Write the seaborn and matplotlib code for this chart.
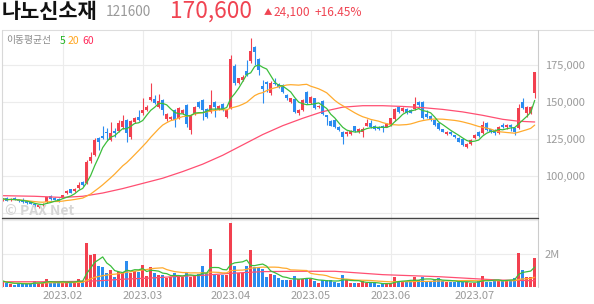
import numpy as np
import pandas as pd
import matplotlib
matplotlib.use("Agg")
import matplotlib.pyplot as plt
from matplotlib.lines import Line2D
import seaborn as sns

# ---------------- data (prices in thousand KRW, volume in millions) ----------------
month_labels = ["2023.02", "2023.03", "2023.04", "2023.05", "2023.06", "2023.07"]
month_start_idx = [15, 35, 57, 77, 97, 118]

opens = [83.3, 85.4, 83.6, 85.1, 84.0, 83.5, 82.9, 82.4, 81.1, 78.9,
         80.2, 82.4, 86.5, 85.1, 84.7, 85.1, 88.3, 91.0, 89.7, 91.9,
         96.1, 95.5, 110.0, 114.2, 125.7, 127.0, 130.0, 124.3, 130.6, 130.6,
         132.9, 137.8, 126.6, 136.7, 140.1, 142.4, 144.6, 151.4, 151.8, 146.8,
         151.4, 138.3, 138.5, 144.6, 139.0, 142.8, 148.0, 131.1, 142.4, 150.2,
         151.4, 145.1, 143.4, 150.2, 145.1, 148.6, 140.1, 146.0, 174.3, 163.0,
         164.9, 171.1, 177.9, 187.0, 178.9, 160.8, 163.3, 156.0, 163.0, 162.2,
         161.5, 154.7, 150.0, 151.8, 142.4, 144.6, 156.6, 149.1, 152.5, 146.8,
         150.9, 141.2, 137.2, 137.8, 133.3, 129.5, 128.4, 128.4, 133.5, 129.9,
         130.0, 134.0, 135.6, 133.8, 133.3, 134.0, 133.3, 134.5, 138.3, 146.8,
         144.1, 145.3, 144.6, 145.3, 150.0, 150.2, 141.9, 140.5, 138.0, 136.0,
         131.6, 128.2, 130.0, 127.7, 125.9, 124.8, 119.8, 121.6, 125.5, 130.0,
         128.8, 135.6, 131.6, 131.1, 128.8, 134.5, 132.9, 134.5, 132.2, 132.2,
         150.2, 142.4, 142.8, 155.9]
highs = [85.0, 85.6, 84.8, 85.5, 84.5, 85.0, 83.3, 82.8, 81.5, 80.5,
         81.5, 86.0, 87.0, 85.5, 85.0, 87.3, 90.5, 91.5, 91.8, 96.0,
         96.8, 110.5, 116.0, 125.5, 126.5, 133.8, 132.2, 136.7, 132.2, 137.8,
         141.2, 138.5, 138.0, 140.0, 144.6, 152.5, 148.0, 163.0, 154.7, 155.4,
         152.0, 142.5, 140.5, 145.0, 146.5, 145.5, 148.5, 141.5, 147.5, 151.0,
         152.0, 146.0, 158.1, 151.0, 148.0, 149.3, 145.0, 181.5, 175.5, 166.5,
         168.0, 178.4, 193.0, 188.0, 179.5, 164.9, 164.0, 164.0, 166.0, 163.0,
         162.5, 155.5, 153.0, 152.5, 145.5, 152.0, 157.5, 154.0, 153.0, 148.0,
         151.5, 141.5, 138.0, 138.5, 134.0, 130.5, 130.5, 131.0, 134.0, 132.5,
         133.3, 138.3, 137.8, 134.5, 134.0, 134.5, 135.5, 139.5, 146.0, 147.5,
         146.5, 146.0, 145.3, 153.2, 151.0, 151.0, 144.6, 141.2, 138.5, 136.5,
         132.0, 130.5, 130.5, 128.0, 126.3, 125.3, 122.0, 125.0, 128.5, 130.5,
         137.0, 136.5, 132.0, 131.5, 134.0, 136.0, 135.0, 135.0, 132.7, 148.5,
         152.5, 147.5, 147.5, 170.6]
lows = [83.0, 83.0, 83.3, 83.5, 82.6, 81.5, 81.2, 81.0, 79.0, 78.5,
        80.0, 82.0, 84.0, 83.5, 82.5, 84.8, 88.0, 88.3, 89.3, 91.5,
        93.2, 94.5, 109.0, 113.5, 117.6, 124.8, 124.3, 123.5, 126.6, 130.0,
        132.0, 123.2, 125.0, 135.8, 137.0, 141.5, 144.0, 150.5, 148.5, 146.0,
        141.2, 137.5, 138.0, 132.9, 138.5, 142.0, 133.1, 128.2, 141.5, 146.0,
        137.8, 139.0, 142.5, 140.1, 144.5, 144.0, 139.5, 145.5, 161.5, 162.5,
        164.0, 167.5, 176.5, 175.0, 168.2, 149.3, 157.0, 155.0, 161.5, 159.5,
        156.0, 151.5, 149.5, 142.5, 141.5, 144.0, 148.5, 148.5, 145.0, 146.0,
        141.0, 134.5, 133.5, 132.3, 130.5, 121.6, 127.0, 127.5, 130.0, 129.0,
        126.6, 133.5, 132.5, 131.1, 131.0, 130.0, 132.8, 134.0, 137.5, 142.8,
        143.5, 142.0, 142.4, 144.8, 146.0, 138.5, 139.0, 137.0, 134.0, 131.0,
        129.5, 127.5, 127.5, 125.5, 122.8, 120.5, 119.2, 121.0, 125.0, 126.5,
        128.2, 130.5, 129.0, 127.5, 128.2, 132.5, 131.5, 130.5, 127.7, 131.5,
        145.0, 140.0, 142.0, 152.5]
closes = [84.7, 83.3, 84.5, 83.8, 83.0, 82.5, 81.5, 81.3, 79.3, 80.2,
          81.0, 85.6, 84.3, 83.8, 82.9, 86.9, 90.1, 88.7, 91.4, 94.1,
          93.7, 109.7, 113.0, 124.3, 123.2, 125.7, 129.1, 128.9, 129.3, 135.6,
          137.0, 128.8, 137.2, 139.0, 137.8, 144.6, 146.8, 153.6, 149.5, 150.7,
          144.6, 141.9, 140.1, 137.8, 145.7, 144.6, 135.1, 140.5, 146.8, 146.8,
          144.6, 139.7, 148.0, 146.8, 147.3, 144.6, 144.6, 178.9, 162.6, 166.0,
          167.1, 168.2, 184.7, 184.0, 171.6, 158.8, 162.2, 162.6, 162.2, 160.3,
          156.6, 152.5, 152.4, 143.4, 144.6, 151.4, 149.1, 153.2, 145.7, 147.5,
          141.9, 139.7, 134.0, 133.3, 131.1, 126.6, 130.0, 130.4, 130.5, 131.8,
          131.8, 135.6, 133.3, 131.8, 131.8, 132.2, 134.9, 139.0, 145.3, 143.4,
          145.7, 142.4, 142.8, 148.6, 148.2, 139.0, 139.7, 137.8, 134.5, 131.6,
          130.0, 130.0, 128.2, 126.1, 123.2, 120.9, 121.6, 124.3, 127.7, 127.0,
          134.5, 131.1, 130.0, 128.8, 133.3, 132.9, 134.5, 132.9, 130.0, 145.7,
          145.7, 146.8, 146.5, 170.6]
volumes_m = [0.37, 0.24, 0.20, 0.14, 0.24, 0.24, 0.20, 0.20, 0.37, 0.27,
             0.27, 0.49, 0.27, 0.27, 0.24, 0.37, 0.37, 0.30, 0.30, 0.49,
             0.37, 2.63, 1.92, 2.00, 1.26, 1.20, 0.85, 1.03, 0.61, 0.93,
             0.93, 1.56, 0.83, 0.97, 0.89, 1.32, 0.67, 1.20, 0.87, 0.73,
             0.73, 0.53, 0.63, 0.87, 0.73, 0.60, 0.83, 0.63, 0.73, 0.77,
             1.26, 0.83, 2.25, 0.77, 0.73, 0.70, 0.73, 3.83, 1.26, 0.87,
             0.87, 1.26, 2.21, 1.22, 1.13, 1.07, 0.63, 0.80, 0.73, 0.53,
             0.43, 0.43, 0.43, 0.67, 0.47, 0.50, 0.57, 0.47, 0.39, 0.24,
             0.43, 0.43, 0.43, 0.33, 0.27, 0.73, 0.43, 0.27, 0.27, 0.27,
             0.39, 0.27, 0.24, 0.24, 0.15, 0.20, 0.24, 0.24, 0.63, 0.39,
             0.33, 0.33, 0.39, 0.63, 0.43, 0.63, 0.39, 0.39, 0.43, 0.53,
             0.39, 0.33, 0.33, 0.33, 0.33, 0.33, 0.33, 0.27, 0.27, 0.39,
             0.67, 0.33, 0.33, 0.43, 0.43, 0.43, 0.43, 0.43, 0.53, 2.02,
             1.00, 0.63, 0.63, 1.72]

# 60-day moving average (needs history before the window)
ma60_idx = [0, 8, 15, 20, 25, 30, 35, 40, 45, 50, 55, 60, 65, 70, 75, 80,
            85, 90, 95, 100, 105, 110, 115, 120, 125, 129, 133]
ma60_val = [86.7, 86.3, 85.5, 86.3, 88.5, 91.5, 95.0, 98.5, 103.0, 108.0, 114.0,
            121.0, 128.0, 134.0, 139.0, 143.5, 146.5, 147.5, 147.5, 147.0, 146.2,
            145.0, 143.3, 141.0, 138.3, 137.0, 136.5]
vma60_idx = [0, 10, 20, 25, 30, 37, 45, 50, 57, 65, 74, 83, 95, 109, 124, 133]
vma60_val = [0.33, 0.33, 0.35, 0.40, 0.48, 0.55, 0.66, 0.71, 0.83, 0.93, 0.95,
             0.95, 0.75, 0.63, 0.43, 0.39]

title_name = "나노신소재"
title_code = "121600"
title_price = "170,600"
title_change = "24,100"
title_pct = "+16.45%"
legend_label = "이동평균선"

# ---------------- styling ----------------
sns.set_theme(style="white")
plt.rcParams["font.family"] = ["Noto Sans CJK KR", "DejaVu Sans"]

UP = "#f2404f"
DOWN = "#2b8cf0"
C5 = "#3cbe3c"
C20 = "#ffab2e"
C60 = "#ff4f72"
GRID = "#ececec"
LBL = "#9b9b9b"

W, H = 594, 304
fig = plt.figure(figsize=(W / 100, H / 100), dpi=100)


def fx(x):
    return x / W


def fy(y):
    return 1 - y / H


TOP, SEP, BOT, LEFT, RIGHT = 30, 217.5, 287.3, 2, 538
ax = fig.add_axes([fx(LEFT), fy(SEP), (RIGHT - LEFT) / W, (SEP - TOP) / H])
axv = fig.add_axes([fx(LEFT), fy(BOT), (RIGHT - LEFT) / W, (BOT - SEP) / H])

n = len(closes)
df = pd.DataFrame({
    "idx": np.arange(n),
    "open": np.array(opens) * 1000,
    "high": np.array(highs) * 1000,
    "low": np.array(lows) * 1000,
    "close": np.array(closes) * 1000,
    "volume": np.array(volumes_m) * 1e6,
})
df["up"] = df["close"] >= df["open"]
df["color"] = np.where(df["up"], UP, DOWN)
df["ma5"] = df["close"].rolling(5, min_periods=1).mean()
df["ma20"] = df["close"].rolling(20, min_periods=1).mean()
df["vma5"] = df["volume"].rolling(5, min_periods=1).mean()
df["vma20"] = df["volume"].rolling(20, min_periods=1).mean()

# ---------------- price panel ----------------
body_lo = df[["open", "close"]].min(axis=1)
body_h = (df["close"] - df["open"]).abs().clip(lower=600)
ax.vlines(df["idx"], df["low"], df["high"], colors=df["color"], linewidth=0.8, zorder=2)
ax.bar(df["idx"], body_h, bottom=body_lo, width=0.7, color=df["color"], linewidth=0, zorder=2)

sns.lineplot(x=np.array(ma60_idx), y=np.array(ma60_val) * 1000, ax=ax, color=C60,
             linewidth=0.9, legend=False, zorder=3)
sns.lineplot(data=df, x="idx", y="ma20", ax=ax, color=C20, linewidth=0.9, legend=False, zorder=3)
sns.lineplot(data=df, x="idx", y="ma5", ax=ax, color=C5, linewidth=0.9, legend=False, zorder=4)

ax.set_xlim(-0.175, 133.825)
ax.set_ylim(71960, 198650)
ax.set_xticks(month_start_idx)
ax.set_xticklabels([])
ax.set_yticks([75000, 100000, 125000, 150000, 175000])
ax.set_yticklabels(["", "100,000", "125,000", "150,000", "175,000"])
ax.yaxis.tick_right()
ax.tick_params(axis="x", length=0)
ax.tick_params(axis="y", length=0, pad=5, labelsize=8, labelcolor=LBL)
ax.grid(True, color=GRID, linewidth=0.8, zorder=0)
ax.set_axisbelow(True)
ax.set_xlabel("")
ax.set_ylabel("")
for s in ax.spines.values():
    s.set_visible(False)

# ---------------- volume panel ----------------
axv.bar(df["idx"], df["volume"], width=0.7, color=df["color"], linewidth=0, zorder=2)
sns.lineplot(x=np.array(vma60_idx), y=np.array(vma60_val) * 1e6, ax=axv, color=C60,
             linewidth=0.9, legend=False, zorder=3)
sns.lineplot(data=df, x="idx", y="vma20", ax=axv, color=C20, linewidth=0.9, legend=False, zorder=3)
sns.lineplot(data=df, x="idx", y="vma5", ax=axv, color=C5, linewidth=0.9, legend=False, zorder=4)
axv.set_xlim(-0.175, 133.825)
axv.set_ylim(0, 4.14e6)
axv.set_xticks(month_start_idx)
axv.set_xticklabels(month_labels)
axv.set_yticks([2e6, 4e6])
axv.set_yticklabels(["2M", ""])
axv.yaxis.tick_right()
axv.tick_params(axis="x", length=0, pad=2.5, labelsize=8, labelcolor=LBL)
axv.tick_params(axis="y", length=0, pad=5, labelsize=8, labelcolor=LBL)
axv.grid(True, color=GRID, linewidth=0.8, zorder=0)
axv.set_axisbelow(True)
axv.set_xlabel("")
axv.set_ylabel("")
for s in axv.spines.values():
    s.set_visible(False)

# ---------------- frame lines ----------------
def fline(x0, y0, x1, y1, color, lw=0.8):
    fig.add_artist(Line2D([fx(x0), fx(x1)], [fy(y0), fy(y1)], transform=fig.transFigure,
                          color=color, linewidth=lw))


fline(LEFT, TOP, W, TOP, "#dddddd")
fline(LEFT, TOP, LEFT, BOT, "#d8d8d8")
fline(RIGHT, TOP, RIGHT, BOT, "#cccccc")
fline(LEFT, SEP, RIGHT, SEP, "#444444", lw=1.0)

# ---------------- texts ----------------
fig.text(fx(1.5), fy(11.5), title_name, fontsize=15, fontweight="bold", color="#111111",
         ha="left", va="center")
fig.text(fx(106), fy(12.5), title_code, fontsize=9.8, color="#999999", ha="left", va="center")
fig.text(fx(170), fy(11), title_price, fontsize=16.3, color="#f04452", ha="left", va="center")
fig.text(fx(263.5), fy(12.5), "▲", fontsize=6, color="#f04452", ha="left", va="center")
fig.text(fx(274), fy(12), title_change, fontsize=8.6, color="#f04452", ha="left", va="center")
fig.text(fx(362), fy(12), title_pct, fontsize=8.6, color="#f04452", ha="right", va="center")

fig.text(fx(6.5), fy(40.5), legend_label, fontsize=7, color="#8a8a8a", ha="left", va="center")
fig.text(fx(59.5), fy(40.5), "5", fontsize=7.5, color="#22b422", ha="left", va="center")
fig.text(fx(67.5), fy(40.5), "20", fontsize=7.5, color="#ffa51e", ha="left", va="center")
fig.text(fx(82.5), fy(40.5), "60", fontsize=7.5, color="#ff2a5a", ha="left", va="center")

fig.text(fx(5), fy(211), "© PAX Net", fontsize=10, fontweight="bold", color="#d6d6d6",
         ha="left", va="center", zorder=5)

fig.savefig("out.png", dpi=100)
